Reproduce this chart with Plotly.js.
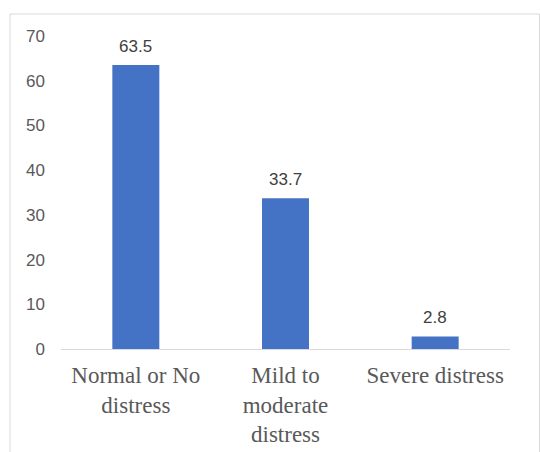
<!DOCTYPE html>
<html>
<head>
<meta charset="utf-8">
<script src="https://cdn.plot.ly/plotly-3.0.1.min.js"></script>
<style>html,body{margin:0;padding:0;background:#fff;}#chart{width:540px;height:452px;}</style>
</head>
<body>
<div id="chart"></div>
<script>
const categories = ["Normal or No<br>distress", "Mild to<br>moderate<br>distress", "Severe distress"];
const values = [63.5, 33.7, 2.8];
const valueLabels = ["63.5", "33.7", "2.8"];
const yTicks = [0, 10, 20, 30, 40, 50, 60, 70];

const L = 61, R = 30, T = 36, B = 103, W = 540, H = 452;
const pw = W - L - R, ph = H - T - B;

const annotations = categories.map((c, i) => ({
  x: c, y: values[i], xref: 'x', yref: 'y',
  text: valueLabels[i], showarrow: false,
  yanchor: 'bottom', yshift: 7,
  font: {family: 'Liberation Sans', size: 17, color: '#404040'}
}));

const data = [{
  type: 'bar', x: categories, y: values,
  marker: {color: '#4472C4'},
  hoverinfo: 'none'
}];

const layout = {
  width: W, height: H,
  margin: {l: L, r: R, t: T, b: B, pad: 0},
  paper_bgcolor: '#ffffff', plot_bgcolor: '#ffffff',
  showlegend: false,
  bargap: 0.686,
  xaxis: {
    type: 'category', range: [-0.5, 2.5],
    showline: true, linecolor: '#d9d9d9', linewidth: 1,
    ticks: '', showgrid: false, zeroline: false,
    tickfont: {family: 'Liberation Serif', size: 23, color: '#595959'},
    ticklabelstandoff: 5,
    automargin: false
  },
  yaxis: {
    range: [0, 70], tickvals: yTicks, ticktext: yTicks.map(String),
    showline: false, showgrid: false, zeroline: false, ticks: '',
    tickfont: {family: 'Liberation Sans', size: 17, color: '#595959'},
    ticklabelstandoff: 15,
    automargin: false
  },
  annotations: annotations,
  shapes: [{
    type: 'rect', xref: 'paper', yref: 'paper',
    x0: (10 - L) / pw, x1: (539.5 - L) / pw,
    y0: (H - B - 470) / ph, y1: (H - B - 14) / ph,
    line: {color: '#d9d9d9', width: 1}, fillcolor: 'rgba(0,0,0,0)', layer: 'below'
  }]
};

Plotly.newPlot('chart', data, layout, {displayModeBar: false, staticPlot: true});
</script>
</body>
</html>
